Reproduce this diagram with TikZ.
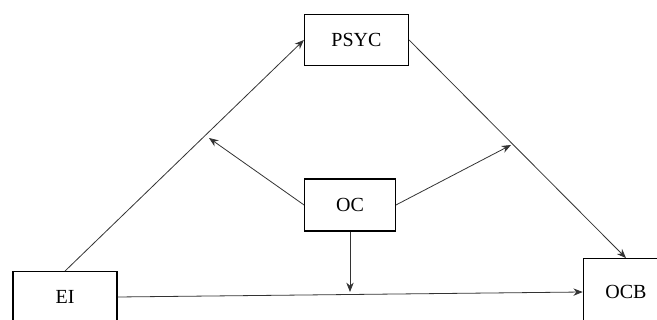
\documentclass[tikz,border=0pt]{standalone}
\usepackage{fontspec}
\setmainfont{Liberation Serif}
\usetikzlibrary{arrows.meta}
\begin{document}
\begin{tikzpicture}[
    x=0.75pt, y=-0.75pt,
    var/.style={rectangle,draw,line width=0.9pt,inner sep=0pt,
        font=\fontsize{15}{17}\selectfont},
    link/.style={-{Stealth[length=7pt,width=5.5pt]},line width=0.6pt,draw=black!80},
]
\useasboundingbox (0,0) rectangle (657,320);

\node[var,minimum width=78pt,minimum height=38pt] (psyc) at (356.5,40) {PSYC};
\node[var,minimum width=68pt,minimum height=39pt] (oc) at (350,205) {OC};
\node[var,minimum width=78pt,minimum height=38pt] (ei) at (65,297) {EI};
\node[var,minimum width=64pt,minimum height=50pt] (ocb) at (626,292) {OCB};

\coordinate (m1) at (209,138);
\coordinate (m2) at (511,145);
\coordinate (m3) at (350,292);

\draw[link] (ei.north) -- (psyc.west);
\draw[link] (psyc.east) -- (ocb.north);
\draw[link] (ei.east) -- (ocb.west);

\draw[link] (oc.west) -- (m1);
\draw[link] (oc.east) -- (m2);
\draw[link] (oc.south) -- (m3);
\end{tikzpicture}
\end{document}
